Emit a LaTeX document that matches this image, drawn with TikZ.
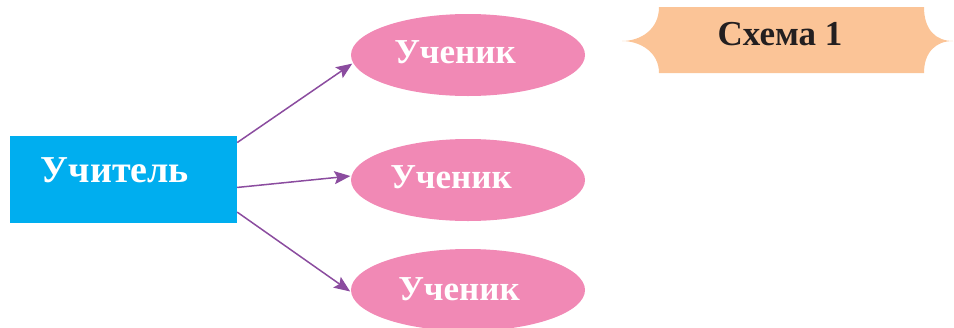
\documentclass[tikz,border=0pt]{standalone}
\usepackage{fontspec}
\setmainfont{Liberation Serif}
\usetikzlibrary{shapes.geometric,arrows.meta}
\definecolor{teachblue}{HTML}{00AEEF}
\definecolor{pupilpink}{HTML}{F189B5}
\definecolor{bannerorange}{HTML}{FBC497}
\definecolor{arrowpurple}{HTML}{8B4C9F}
\definecolor{darktext}{HTML}{231F20}
\begin{document}
\begin{tikzpicture}[x=1pt, y=-1pt,
    teacherbox/.style={fill=teachblue, minimum width=227pt, minimum height=87pt, inner sep=0pt},
    pupilbox/.style={ellipse, fill=pupilpink, minimum width=234pt, minimum height=82pt, inner sep=0pt},
    bigtext/.style={anchor=base, text=white, font=\bfseries\fontsize{35}{40}\selectfont},
    link/.style={arrowpurple, line width=1.5pt, shorten >=1pt, -{Stealth[length=16pt, width=13pt, inset=3pt]}}]
    \useasboundingbox (0,0) rectangle (954,327);

    % Teacher
    \node[teacherbox] (teacher) at (123.5,179.5) {};
    \node[bigtext, font=\bfseries\fontsize{38}{44}\selectfont] (teacherlbl) at (115,182) {Учитель};

    % Pupils
    \node[pupilbox] (pupila) at (468,55) {};
    \node[pupilbox] (pupilb) at (468,180) {};
    \node[pupilbox] (pupilc) at (468,290) {};
    \node[bigtext] (pupilalbl) at (455,63) {Ученик};
    \node[bigtext] (pupilblbl) at (451,188) {Ученик};
    \node[bigtext] (pupilclbl) at (459,300) {Ученик};

    % Arrows
    \draw[link] (teacher.18) -- (pupila.184);
    \draw[link] (teacher.-4) -- (pupilb.178);
    \draw[link] (teacher.-16) -- (pupilc.181);

    % Banner
    \fill[bannerorange] (659,7) -- (924,7)
        .. controls (924,30) and (936,41) .. (953,41)
        .. controls (936,41) and (924,52) .. (924,73)
        -- (659,73)
        .. controls (659,52) and (640,41) .. (622,41)
        .. controls (640,41) and (659,30) .. (659,7) -- cycle;
    \node[bigtext, text=darktext] (scheme) at (780,45) {Схема 1};
\end{tikzpicture}
\end{document}
